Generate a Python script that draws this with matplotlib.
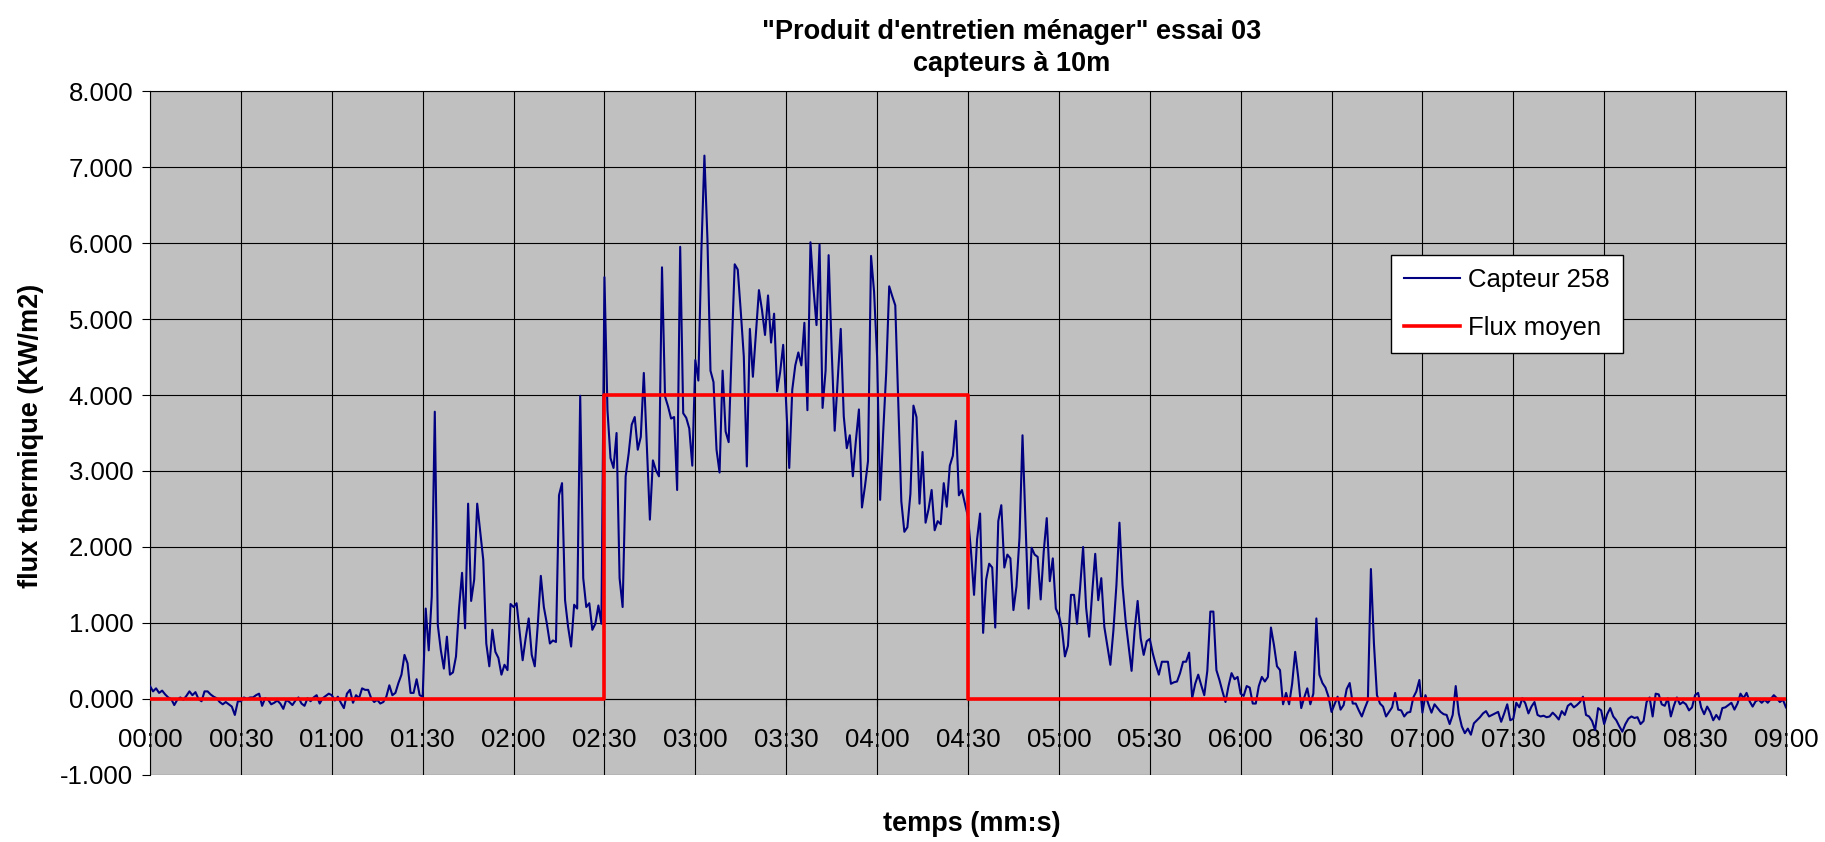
import numpy as np
import matplotlib.pyplot as plt

plt.rcParams['font.family'] = ['Liberation Sans', 'DejaVu Sans']

# capteur 258, une mesure par seconde (kW/m2)
capteur_avant = [  # 00:00 -> 02:29
    0.17, 0.10, 0.14, 0.08, 0.11, 0.06, 0.02, 0.00, -0.08, -0.01,
    0.02, -0.01, 0.04, 0.10, 0.05, 0.09, 0.00, -0.03, 0.10, 0.10,
    0.06, 0.03, 0.01, -0.04, -0.07, -0.04, -0.07, -0.10, -0.21, -0.03,
    -0.03, 0.02, 0.00, 0.02, 0.02, 0.05, 0.07, -0.09, 0.01, -0.01,
    -0.07, -0.05, -0.02, -0.06, -0.13, -0.01, -0.04, -0.08, -0.02, 0.02,
    -0.06, -0.09, 0.01, -0.03, 0.02, 0.05, -0.06, 0.01, 0.04, 0.07,
    0.05, -0.02, 0.03, -0.05, -0.12, 0.07, 0.12, -0.05, 0.05, 0.01,
    0.14, 0.12, 0.12, 0.01, -0.04, -0.01, -0.06, -0.04, 0.03, 0.18,
    0.05, 0.08, 0.21, 0.32, 0.58, 0.47, 0.08, 0.08, 0.26, 0.05,
    0.03, 1.19, 0.64, 1.35, 3.78, 0.97, 0.64, 0.40, 0.82, 0.32,
    0.35, 0.56, 1.19, 1.66, 0.93, 2.57, 1.29, 1.57, 2.57, 2.20,
    1.83, 0.73, 0.43, 0.91, 0.62, 0.54, 0.32, 0.45, 0.38, 1.25,
    1.21, 1.26, 0.88, 0.51, 0.80, 1.06, 0.58, 0.43, 0.98, 1.62,
    1.21, 0.99, 0.73, 0.77, 0.75, 2.68, 2.84, 1.30, 0.95, 0.69,
    1.24, 1.19, 3.99, 1.59, 1.21, 1.26, 0.91, 0.99, 1.23, 0.99,
]
capteur_pendant = [  # 02:30 -> 04:29
    5.55, 3.80, 3.17, 3.04, 3.50, 1.59, 1.21, 2.93, 3.23, 3.61,
    3.71, 3.28, 3.45, 4.29, 3.32, 2.36, 3.14, 3.01, 2.93, 5.68,
    3.98, 3.85, 3.69, 3.71, 2.75, 5.95, 3.76, 3.70, 3.56, 3.07,
    4.46, 4.19, 5.90, 7.15, 6.05, 4.32, 4.17, 3.28, 2.98, 4.32,
    3.52, 3.38, 4.60, 5.72, 5.65, 5.10, 4.51, 3.06, 4.87, 4.24,
    4.80, 5.38, 5.12, 4.79, 5.31, 4.69, 5.07, 4.05, 4.30, 4.66,
    3.87, 3.04, 4.07, 4.39, 4.56, 4.39, 4.95, 3.80, 6.01, 5.40,
    4.92, 5.98, 3.83, 4.32, 5.84, 4.60, 3.53, 4.20, 4.87, 3.72,
    3.30, 3.47, 2.93, 3.40, 3.81, 2.52, 2.80, 3.13, 5.83, 5.36,
    4.50, 2.62, 3.50, 4.29, 5.43, 5.30, 5.18, 3.90, 2.60, 2.20,
    2.26, 2.70, 3.86, 3.71, 2.57, 3.25, 2.32, 2.50, 2.75, 2.22,
    2.34, 2.30, 2.84, 2.53, 3.07, 3.20, 3.66, 2.68, 2.75, 2.57,
]
capteur_apres = [  # 04:30 -> 09:00
    2.40, 1.94, 1.37, 2.10, 2.44, 0.87, 1.57, 1.78, 1.73, 0.94,
    2.34, 2.55, 1.73, 1.90, 1.85, 1.17, 1.48, 2.12, 3.47, 2.30,
    1.19, 1.99, 1.90, 1.87, 1.31, 1.94, 2.38, 1.55, 1.85, 1.19,
    1.10, 0.93, 0.56, 0.70, 1.37, 1.37, 0.99, 1.46, 2.00, 1.20,
    0.82, 1.40, 1.91, 1.30, 1.59, 0.95, 0.70, 0.45, 0.90, 1.50,
    2.32, 1.50, 1.04, 0.70, 0.37, 0.90, 1.29, 0.80, 0.58, 0.76,
    0.79, 0.60, 0.45, 0.32, 0.49, 0.49, 0.49, 0.20, 0.22, 0.23,
    0.34, 0.49, 0.49, 0.61, 0.01, 0.20, 0.32, 0.18, 0.05, 0.37,
    1.15, 1.15, 0.38, 0.25, 0.10, -0.04, 0.17, 0.34, 0.26, 0.29,
    0.07, 0.04, 0.17, 0.15, -0.06, -0.06, 0.17, 0.29, 0.23, 0.29,
    0.94, 0.71, 0.43, 0.38, -0.07, 0.08, -0.07, 0.20, 0.62, 0.29,
    -0.12, 0.02, 0.14, -0.07, 0.07, 1.06, 0.32, 0.21, 0.15, 0.03,
    -0.17, -0.07, 0.03, -0.14, -0.08, 0.13, 0.21, -0.06, -0.06, -0.15,
    -0.23, -0.12, -0.02, 1.71, 0.73, 0.05, -0.06, -0.10, -0.23, -0.17,
    -0.11, 0.08, -0.14, -0.15, -0.23, -0.18, -0.17, 0.02, 0.10, 0.25,
    -0.18, 0.05, -0.07, -0.18, -0.07, -0.12, -0.17, -0.20, -0.21, -0.33,
    -0.21, 0.17, -0.19, -0.36, -0.45, -0.39, -0.47, -0.32, -0.28, -0.24,
    -0.19, -0.16, -0.23, -0.21, -0.19, -0.17, -0.30, -0.19, -0.07, -0.28,
    -0.26, -0.05, -0.11, 0.01, -0.06, -0.19, -0.10, -0.04, -0.21, -0.23,
    -0.22, -0.24, -0.23, -0.18, -0.22, -0.27, -0.16, -0.21, -0.09, -0.06,
    -0.11, -0.08, -0.04, 0.03, -0.21, -0.23, -0.29, -0.41, -0.12, -0.15,
    -0.33, -0.20, -0.12, -0.23, -0.28, -0.36, -0.43, -0.33, -0.26, -0.23,
    -0.25, -0.24, -0.33, -0.29, -0.04, 0.02, -0.23, 0.07, 0.06, -0.07,
    -0.09, 0.01, -0.23, -0.09, 0.02, -0.07, -0.04, -0.07, -0.15, -0.11,
    0.05, 0.08, -0.11, -0.20, -0.10, -0.17, -0.28, -0.21, -0.27, -0.12,
    -0.11, -0.08, -0.05, -0.14, -0.06, 0.07, 0.01, 0.08, -0.03, -0.10,
    -0.03, -0.01, -0.05, -0.01, -0.05, 0.00, 0.05, 0.01, -0.04, -0.01,
    -0.11,
]

# flux moyen par palier (bornes en secondes)
flux_bornes = [0, 150, 270, 540]
flux_moyen = [0.0, 4.0, 0.0]

x_labels = ['00:00', '00:30', '01:00', '01:30', '02:00', '02:30', '03:00',
            '03:30', '04:00', '04:30', '05:00', '05:30', '06:00', '06:30',
            '07:00', '07:30', '08:00', '08:30', '09:00']

capteur = capteur_avant + capteur_pendant + capteur_apres
temps = np.arange(len(capteur))

fig = plt.figure(figsize=(18.25, 8.42), dpi=100)
ax = fig.add_axes([0.0822, 0.0796, 0.8964, 0.8123])
ax.set_facecolor('#C0C0C0')

ax.plot(temps, capteur, color='#000080', lw=1.5, label='Capteur 258', zorder=3)
ax.step(flux_bornes, flux_moyen + flux_moyen[-1:], where='post',
        color='#FF0000', lw=2.6, label='Flux moyen', zorder=4)

ax.set_xlim(0, 540)
ax.set_ylim(-1, 8)
ax.set_xticks(np.arange(0, 541, 30))
ax.set_xticklabels(x_labels)
ax.set_yticks(np.arange(-1, 9))
ax.set_yticklabels(['%.3f' % v for v in range(-1, 9)])

ax.grid(True, color='black', lw=0.8)
ax.set_axisbelow(True)
for s in ax.spines.values():
    s.set_color('black')
    s.set_linewidth(0.8)
ax.spines['bottom'].set_position(('data', 0))

ax.tick_params(axis='x', direction='out', length=5, width=0.8, pad=16, labelsize=18.5)
ax.tick_params(axis='y', direction='out', length=6, width=0.8, pad=6, labelsize=18.5)

fig.text(0.5545, 0.9425, "\"Produit d'entretien ménager\" essai 03\ncapteurs à 10m",
         ha='center', va='center', fontsize=19.5, fontweight='bold', linespacing=1.3)
fig.text(0.5326, 0.0214, 'temps (mm:s)', ha='center', va='center',
         fontsize=19.5, fontweight='bold')
fig.text(0.017, 0.482, 'flux thermique (KW/m2)', rotation=90, ha='center', va='center',
         fontsize=19.5, fontweight='bold')

leg = ax.legend(loc='upper left', bbox_to_anchor=(0.7586, 0.760), borderaxespad=0,
                fontsize=18.5, frameon=True, fancybox=False, framealpha=1,
                edgecolor='black', handlelength=2.2, handletextpad=0.3,
                labelspacing=0.95, borderpad=0.5)
leg.get_frame().set_linewidth(1.0)

fig.savefig('out.png', dpi=100, facecolor='white')
